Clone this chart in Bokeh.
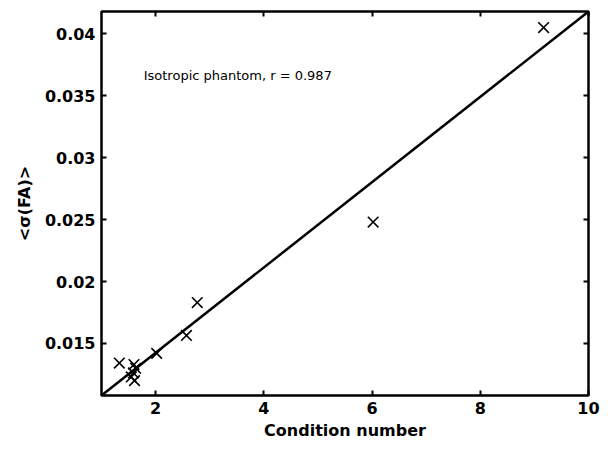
from bokeh.plotting import figure
from bokeh.models import LinearAxis, FixedTicker, Range1d, Label
from bokeh.embed import file_html
from bokeh.resources import INLINE

# Data
cond_number = [9.17, 6.02, 2.77, 2.57, 2.02, 1.33, 1.60, 1.59, 1.61, 1.55, 1.63]
sigma_fa = [0.0405, 0.0248, 0.0183, 0.01565, 0.0142, 0.01342, 0.0133, 0.01262, 0.0120, 0.0123, 0.0130]
fit_x = [1.0, 10.0]
fit_y = [0.0108, 0.0418]
x_ticks = [2, 4, 6, 8, 10]
y_ticks = [0.015, 0.02, 0.025, 0.03, 0.035, 0.04]
y_tick_labels = ["0.015", "0.02", "0.025", "0.03", "0.035", "0.04"]

FONT = "DejaVu Sans"

p = figure(width=608, height=448, output_backend="svg", toolbar_location=None,
           x_range=Range1d(1.0, 10.0), y_range=Range1d(0.0108, 0.0418),
           min_border_left=101, min_border_top=11, min_border_right=20, min_border_bottom=53)
p.grid.visible = False
p.outline_line_color = "black"
p.outline_line_width = 2.5
p.background_fill_color = "white"
p.border_fill_color = "white"

for ax in (p.xaxis[0], p.yaxis[0]):
    ax.axis_line_color = None
    ax.major_tick_in = 5
    ax.major_tick_out = 0
    ax.major_tick_line_width = 2
    ax.minor_tick_line_color = None
    ax.major_label_text_font = FONT
    ax.major_label_text_font_style = "bold"
    ax.major_label_text_font_size = "16px"
    ax.major_label_text_color = "black"
    ax.axis_label_text_font = FONT
    ax.axis_label_text_font_style = "bold"
    ax.axis_label_text_font_size = "16px"
    ax.axis_label_text_color = "black"

p.xaxis[0].ticker = FixedTicker(ticks=x_ticks)
p.yaxis[0].ticker = FixedTicker(ticks=y_ticks)
p.yaxis[0].major_label_overrides = {t: l for t, l in zip(y_ticks, y_tick_labels)}
p.xaxis[0].axis_label = "Condition number"
p.yaxis[0].axis_label = "<σ(FA)>"
p.xaxis[0].major_label_standoff = 6
p.xaxis[0].axis_label_standoff = 4
p.yaxis[0].major_label_standoff = 6
p.yaxis[0].axis_label_standoff = 8

# mirrored tick axes (top, right), ticks only
for loc, ticks in (("above", x_ticks), ("right", y_ticks)):
    ax = LinearAxis(ticker=FixedTicker(ticks=ticks), axis_line_color=None,
                    major_tick_in=5, major_tick_out=0, major_tick_line_width=2,
                    minor_tick_line_color=None, major_label_text_color=None,
                    major_label_text_font_size="1px", major_label_standoff=0)
    p.add_layout(ax, loc)

p.line(fit_x, fit_y, line_color="black", line_width=2.5)
p.scatter(cond_number, sigma_fa, marker="x", size=15, line_color="black", line_width=1.6)

p.add_layout(Label(x=1.78, y=0.0366, text="Isotropic phantom, r = 0.987",
                   text_font=FONT, text_font_size="13px", text_color="black",
                   text_baseline="middle"))

open("out.html", "w").write(file_html(p, INLINE))
